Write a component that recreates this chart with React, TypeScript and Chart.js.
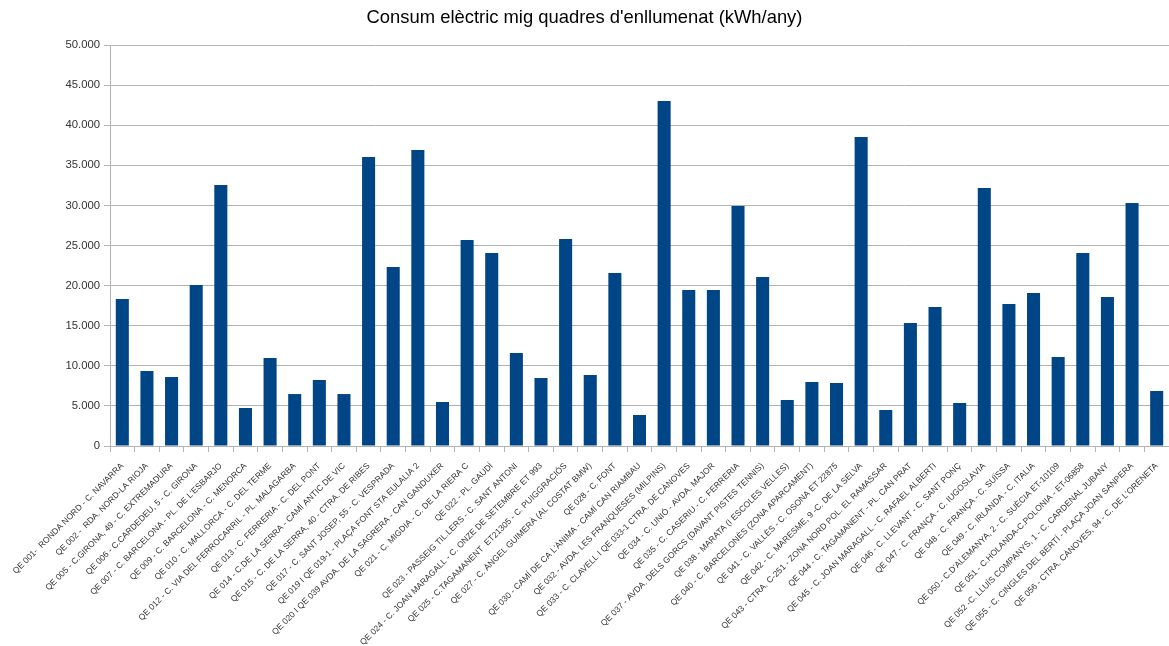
import React, { useEffect, useRef } from "react";
import { Chart, registerables } from "chart.js";

Chart.register(...registerables);

const TITLE = "Consum elèctric mig quadres d'enllumenat (kWh/any)";

const categories: string[] = [
  "QE 001-  RONDA NORD - C. NAVARRA",
  "QE 002 -  RDA. NORD-LA RIOJA",
  "QE 005 - C.GIRONA, 49 - C. EXTREMADURA",
  "QE 006 - C.CARDEDEU, 5 - C. GIRONA",
  "QE 007 - C. BARCELONA - PL. DE L'ESBARJO",
  "QE 009 - C. BARCELONA - C. MENORCA",
  "QE 010 - C. MALLORCA - C. DEL TERME",
  "QE 012 - C. VIA DEL FERROCARRIL - PL. MALAGARBA",
  "QE 013 - C. FERRERIA - C. DEL PONT",
  "QE 014 - C.DE LA SERRA - CAMÍ ANTIC DE VIC",
  "QE 015 - C. DE LA SERRA, 40 - CTRA. DE RIBES",
  "QE 017 - C. SANT JOSEP, 55 - C. VESPRADA",
  "QE 019 I QE 019-1 - PLAÇA FONT STA EULALIA 2",
  "QE 020 I QE 039 AVDA. DE LA SAGRERA - CAN GANDUXER",
  "QE 021 - C. MIGDIA - C. DE LA RIERA C",
  "QE 022 - PL. GAUDÍ",
  "QE 023 - PASSEIG TIL.LERS - C. SANT ANTONI",
  "QE 024 - C. JOAN MARAGALL - C. ONZE DE SETEMBRE ET 993",
  "QE 025 - C.TAGAMANENT  ET21305 - C. PUIGGRACIÓS",
  "QE 027 - C. ÀNGEL GUIMERÀ (AL COSTAT BMW)",
  "QE 028 - C. FONT",
  "QE 030 - CAMÍ DE CA L'ÀNIMA - CAMÍ CAN RIAMBAU",
  "QE 032 - AVDA. LES FRANQUESES (MILPINS)",
  "QE 033 - C. CLAVELL I QE 033-1 CTRA. DE CÀNOVES",
  "QE 034 - C. UNIÓ - AVDA. MAJOR",
  "QE 035 - C. CASERIU - C. FERRERIA",
  "QE 037 - AVDA. DELS GORCS (DAVANT PISTES TENNIS)",
  "QE 038 - MARATA (I ESCOLES VELLES)",
  "QE 040 - C. BARCELONÈS (ZONA APARCAMENT)",
  "QE 041 - C. VALLÈS - C. OSONA ET 22875",
  "QE 042 - C. MARESME, 9 -C. DE LA SELVA",
  "QE 043 - CTRA. C-251 - ZONA NORD POL. EL RAMASSAR",
  "QE 044 - C. TAGAMANENT - PL. CAN PRAT",
  "QE 045 - C. JOAN MARAGALL - C. RAFAEL ALBERTI",
  "QE 046 - C. LLEVANT - C. SANT PONÇ",
  "QE 047 - C. FRANÇA - C. IUGOSLÀVIA",
  "QE 048 - C. FRANÇA - C. SUÏSSA",
  "QE 049 - C. IRLANDA - C. ITALIA",
  "QE 050 - C.D'ALEMANYA, 2 - C. SUÈCIA ET-10109",
  "QE 051 - C.HOLANDA-C.POLONIA - ET-06858",
  "QE 052 -C. LLUÍS COMPANYS, 1 - C. CARDENAL JUBANY",
  "QE 055 - C. CINGLES DEL BERTÍ - PLAÇA JOAN SANPERA",
  "QE 056 - CTRA. CÀNOVES, 94 - C. DE L'ORENETA",
];

const consumption: number[] = [
  18330, 9350, 8600, 20080, 32540, 4740, 10970, 6480, 8230, 6480,
  36040, 22320, 36900, 5490, 25690, 24060, 11600, 8480, 25810, 8850,
  21570, 3870, 43020, 19450, 19450, 29930, 21070, 5740, 7980, 7860,
  38530, 4490, 15340, 17330, 5360, 32170, 17700, 19080, 11100, 24060,
  18580, 30300, 6860,
];

const Y_MIN = 0;
const Y_MAX = 50000;
const Y_STEP = 5000;

function fmt(v: number): string {
  return Math.round(v).toString().replace(/\B(?=(\d{3})+(?!\d))/g, ".");
}

export default function App() {
  const ref = useRef<HTMLCanvasElement | null>(null);

  useEffect(() => {
    document.body.style.margin = "0";
    const canvas = ref.current;
    if (!canvas) return;
    const chart = new Chart(canvas, {
      type: "bar",
      data: {
        labels: categories,
        datasets: [
          {
            label: "Consum",
            data: consumption,
            backgroundColor: "#004586",
            borderWidth: 0,
            barPercentage: 0.53,
            categoryPercentage: 1,
          },
        ],
      },
      options: {
        animation: false,
        responsive: false,
        maintainAspectRatio: false,
        layout: { padding: { left: 0, right: 0, top: 4, bottom: 0 } },
        plugins: {
          legend: { display: false },
          tooltip: { enabled: false },
          title: {
            display: true,
            text: TITLE,
            color: "#000",
            font: { family: "Liberation Sans", size: 18.4, weight: "normal" },
            padding: { top: 3, bottom: 16 },
          },
        },
        scales: {
          x: {
            offset: true,
            afterFit: (scale: any) => {
              scale.height = 200;
              scale.paddingRight = 0;
            },
            grid: {
              offset: true,
              drawOnChartArea: false,
              drawTicks: true,
              tickLength: 6,
              color: "#b3b3b3",
            },
            border: { display: true, color: "#b3b3b3", width: 1 },
            ticks: {
              autoSkip: false,
              minRotation: 45,
              maxRotation: 45,
              padding: 9,
              color: "#333",
              font: { family: "Liberation Sans", size: 8.5 },
            },
          },
          y: {
            min: Y_MIN,
            max: Y_MAX,
            afterFit: (scale: any) => {
              scale.width = 110;
            },
            grid: {
              color: "#b3b3b3",
              tickLength: 6,
            },
            border: { display: true, color: "#b3b3b3", width: 1 },
            ticks: {
              stepSize: Y_STEP,
              padding: 4,
              color: "#333",
              font: { family: "Liberation Sans", size: 11.3 },
              callback: (v: any) => fmt(Number(v)),
            },
          },
        },
      },
    });
    return () => chart.destroy();
  }, []);

  return (
    <div style={{ width: 1169, height: 646, background: "#fff" }}>
      <canvas ref={ref} width={1169} height={646} style={{ width: 1169, height: 646, display: "block" }} />
    </div>
  );
}
